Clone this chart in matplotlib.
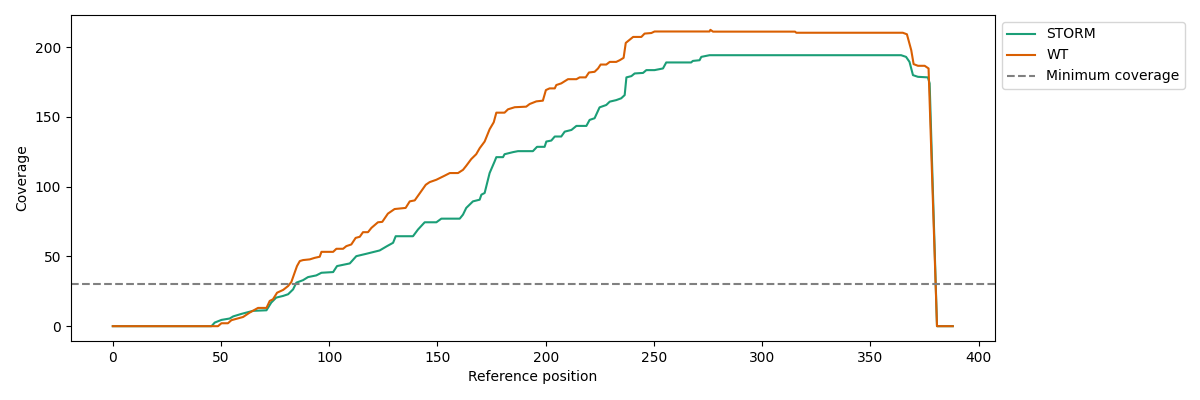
import matplotlib
matplotlib.use("Agg")
import matplotlib.pyplot as plt

# coverage traced at breakpoints along the reference
storm_pos = [0, 45.6, 47.1, 50.2, 54, 55.6, 59.4, 64.8, 71, 73.2, 75.5, 78.7, 81,
             83.3, 84.8, 87.9, 90.2, 94, 96.4, 101.8, 103.6, 109.5, 112.5, 117.1,
             123.3, 126.7, 129.5, 130.7, 138.7, 141, 144.1, 149.5, 151.8, 160.3,
             161.8, 163.3, 166.4, 169.5, 170.3, 171.8, 174.1, 176.4, 177.2, 180.3,
             181, 184.9, 187.2, 194.1, 196, 199.5, 200.3, 202.6, 204.2, 207.2,
             208.8, 211.9, 214.2, 218.8, 220.3, 222.6, 224.9, 228, 229.6, 232.6,
             234.9, 236.5, 237.3, 239.6, 241.1, 245, 246.5, 250.3, 251.9, 254.2,
             255.7, 267.2, 268, 271.1, 271.9, 275.7, 364.2, 366.5, 368.1, 369.7,
             372, 376.6, 377.4, 380.8, 388.1]
storm_cov = [0, 0, 2.6, 4.5, 5.5, 7, 8.8, 11, 11.4, 16.9, 20.5, 21.7, 22.9,
             26.4, 31.2, 33, 35.2, 36.4, 38.3, 38.8, 43.1, 45, 50.2, 51.9,
             54.3, 57.4, 59.8, 64.5, 64.5, 69.3, 74.5, 74.5, 77.1, 77.1,
             80, 84.8, 89.5, 90.7, 94.3, 95.5, 109.8, 118.1, 121.2, 121.2,
             123.3, 124.8, 125.5, 125.5, 128.6, 128.6, 132.4, 133.1, 136, 136,
             139.5, 140.7, 143.6, 143.6, 147.9, 149.1, 156.9, 158.6, 161, 162.1,
             163.4, 165.7, 178.4, 179.3, 181.2, 181.6, 183.6, 183.6, 184.1, 184.8,
             189.1, 189.1, 190.2, 190.7, 193.1, 194.3, 194.3, 193.1, 189.5, 180,
             178.8, 178.4, 174.1, 0, 0]

wt_pos = [0, 48.6, 50.2, 53.2, 54.8, 60.2, 63.3, 67.1, 71, 72.5, 74, 75.9, 78.7,
          81, 82.5, 84, 85.1, 86.4, 87.9, 91, 93.3, 95.6, 96.4, 101.8, 103.3,
          106.4, 107.9, 110.2, 112.2, 114.1, 115.6, 117.9, 119.5, 122.5, 124.5,
          127.1, 130.2, 135.3, 137.2, 139.5, 142.1, 144.6, 146.4, 149.5, 153.3,
          155.7, 159.5, 161.8, 163.3, 165.6, 167.9, 169.5, 171.8, 174.1, 176,
          177.2, 181, 182.6, 185.7, 191, 192.6, 195.7, 198.7, 200.1, 201.8,
          204.2, 204.9, 207.2, 210.3, 214.2, 215.7, 218.5, 220, 222.6, 224.2,
          225.4, 228, 229.6, 232.6, 234.2, 236, 237, 238.1, 240.4, 244.2, 245.7,
          248.8, 250.3, 275.7, 276.1, 277.3, 315.2, 315.8, 365, 366.9, 368.9,
          370, 372, 375.1, 376.9, 380.8, 388.1]
wt_cov = [0, 0, 2.1, 2.1, 4.3, 6.6, 9.8, 13.1, 13.1, 18.1, 19.3, 24, 26,
          28.8, 31.7, 38.3, 43.1, 46.7, 47.4, 47.9, 49, 49.8, 53.3, 53.3, 55.5,
          55.5, 57.4, 58.6, 63.3, 64.1, 67.4, 67.4, 70.5, 74.5, 74.8,
          80.7, 84, 84.8, 89.5, 90.2, 95.9, 101.4, 103.3, 105, 107.9,
          109.8, 109.8, 112.1, 115, 119.8, 123.3, 127.6, 132.4, 141.2, 146.2,
          153.1, 153.1, 155.5, 157, 157.4, 159.3, 161.2, 161.7, 169.3, 170.5,
          170.5, 172.9, 174.1, 177.1, 177.1, 178.4, 178.4, 181.9, 182.4, 184.8,
          187.6, 187.6, 189.5, 189.5, 190.7, 192.4, 203.1, 204.5, 207.4, 207.4, 209.8,
          210.2, 211.3, 211.3, 212.5, 211.2, 211.2, 210.4, 210.4, 209.3, 197.9,
          187.9, 186.7, 186.7, 184.8, 0, 0]

min_coverage = 30

fig, ax = plt.subplots(figsize=(12, 4), dpi=100)
ax.plot(storm_pos, storm_cov, color="#1b9e77", linewidth=1.5, label="STORM")
ax.plot(wt_pos, wt_cov, color="#d95f02", linewidth=1.5, label="WT")
ax.axhline(min_coverage, color="gray", linestyle="--", linewidth=1.5,
           label="Minimum coverage")
ax.set_xlabel("Reference position")
ax.set_ylabel("Coverage")
ax.legend(loc="upper left", bbox_to_anchor=(1, 1))
plt.subplots_adjust(left=0.059, right=0.829, top=0.9625, bottom=0.1475)
plt.savefig("out.png", dpi=100)
plt.close()
